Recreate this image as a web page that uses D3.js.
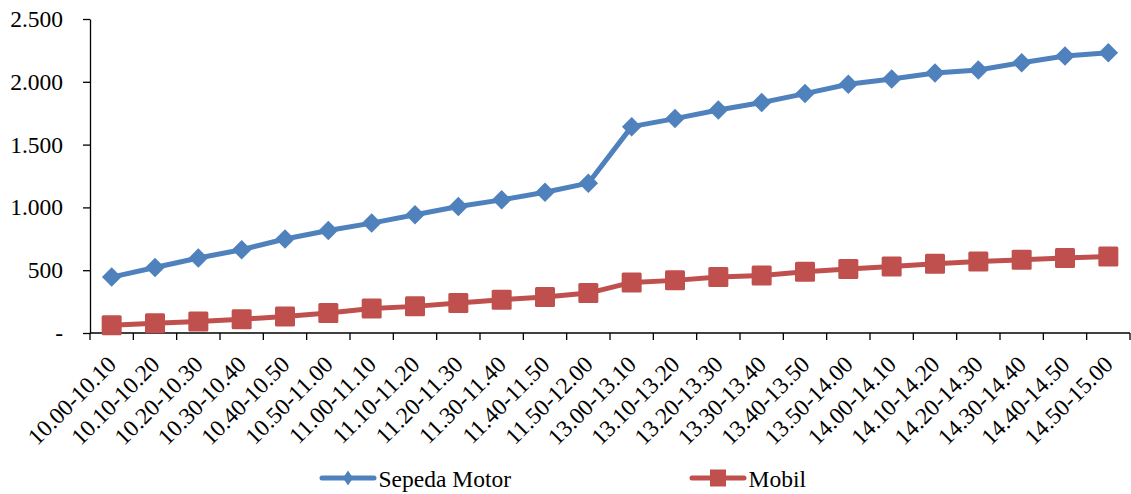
<!DOCTYPE html>
<html>
<head>
<meta charset="utf-8">
<script src="https://cdn.jsdelivr.net/npm/d3@7"></script>
<style>
  html, body { margin: 0; padding: 0; background: #fff; }
  svg { display: block; }
</style>
</head>
<body>
<svg id="chart" width="1131" height="494"></svg>
<script>
// Time slots (10-minute intervals)
const categories = [
  "10.00-10.10", "10.10-10.20", "10.20-10.30", "10.30-10.40", "10.40-10.50", "10.50-11.00",
  "11.00-11.10", "11.10-11.20", "11.20-11.30", "11.30-11.40", "11.40-11.50", "11.50-12.00",
  "13.00-13.10", "13.10-13.20", "13.20-13.30", "13.30-13.40", "13.40-13.50", "13.50-14.00",
  "14.00-14.10", "14.10-14.20", "14.20-14.30", "14.30-14.40", "14.40-14.50", "14.50-15.00"
];

// Cumulative vehicle counts
const sepedaMotor = [445, 522, 597, 663, 748, 816, 875, 941, 1007, 1060, 1121, 1193,
                     1643, 1707, 1776, 1835, 1906, 1980, 2023, 2070, 2094, 2152, 2205, 2232];
const mobil = [62, 78, 92, 110, 132, 160, 195, 212, 239, 265, 286, 318,
               403, 419, 446, 458, 488, 509, 530, 551, 570, 583, 597, 610];

const yTicks = [0, 500, 1000, 1500, 2000, 2500];
const yTickLabels = ["-", "500", "1.000", "1.500", "2.000", "2.500"];

const seriesNames = ["Sepeda Motor", "Mobil"];
const seriesColors = ["#4F81BD", "#C0504D"];

const FONT = "'Liberation Serif', 'Times New Roman', Times, serif";
const FONT_SIZE = "23.5px";

const svg = d3.select("#chart");
const plotLeft = 90, plotRight = 1130, plotTop = 19, plotBottom = 333;

const x = d3.scaleBand().domain(categories).range([plotLeft, plotRight]).paddingInner(0).paddingOuter(0);
const y = d3.scaleLinear().domain([0, 2500]).range([plotBottom, plotTop]);

// Y axis
const yAxis = d3.axisLeft(y)
  .tickValues(yTicks)
  .tickFormat((d, i) => yTickLabels[i])
  .tickSizeInner(7).tickSizeOuter(0).tickPadding(27);
const gy = svg.append("g").attr("transform", `translate(${plotLeft},0)`).call(yAxis);
gy.attr("font-family", null).attr("font-size", null);
gy.select(".domain").attr("stroke", "#000").attr("stroke-width", 1.3);
gy.selectAll(".tick line").attr("stroke", "#000").attr("stroke-width", 1.3);
gy.selectAll(".tick text")
  .style("font-family", FONT).style("font-size", FONT_SIZE).attr("fill", "#000")
  .attr("text-anchor", "end").attr("x", -27).attr("dy", "0.32em");

// X axis: ticks at category boundaries
const gx = svg.append("g").attr("transform", `translate(0,${plotBottom})`);
gx.append("line").attr("x1", plotLeft).attr("x2", plotRight).attr("y1", 0).attr("y2", 0)
  .attr("stroke", "#000").attr("stroke-width", 1.3);
const boundaries = categories.map(c => x(c)).concat([x(categories[categories.length - 1]) + x.bandwidth()]);
gx.selectAll("line.tk").data(boundaries).enter().append("line").attr("class", "tk")
  .attr("x1", d => d).attr("x2", d => d).attr("y1", 0).attr("y2", 7)
  .attr("stroke", "#000").attr("stroke-width", 1.3);
gx.selectAll("text.lbl").data(categories).enter().append("text").attr("class", "lbl")
  .style("font-family", FONT).style("font-size", FONT_SIZE).attr("fill", "#000")
  .attr("text-anchor", "end")
  .attr("transform", d => `translate(${x(d) + x.bandwidth() / 2 + 6},${33}) rotate(-45)`)
  .text(d => d);

// Series
const cx = d => x(d) + x.bandwidth() / 2;
const data = [sepedaMotor, mobil];
const line = d3.line().x((v, i) => cx(categories[i])).y(v => y(v));

data.forEach((vals, s) => {
  svg.append("path").datum(vals).attr("d", line)
    .attr("fill", "none").attr("stroke", seriesColors[s]).attr("stroke-width", 5)
    .attr("stroke-linejoin", "round");
});

// Markers: diamonds for Sepeda Motor, squares for Mobil
svg.selectAll("path.dia").data(sepedaMotor).enter().append("path").attr("class", "dia")
  .attr("d", d3.symbol().type(d3.symbolSquare).size(190))
  .attr("transform", (v, i) => `translate(${cx(categories[i])},${y(v)}) rotate(45)`)
  .attr("fill", seriesColors[0]);
svg.selectAll("rect.sq").data(mobil).enter().append("rect").attr("class", "sq")
  .attr("x", (v, i) => cx(categories[i]) - 10).attr("y", v => y(v) - 10)
  .attr("width", 20).attr("height", 20).attr("rx", 1.5)
  .attr("fill", seriesColors[1]);

// Legend
const legendY = 478;
const legendX = [320, 690];
seriesNames.forEach((name, s) => {
  const g = svg.append("g").attr("transform", `translate(${legendX[s]},${legendY})`);
  g.append("line").attr("x1", 2).attr("x2", 54).attr("y1", 0).attr("y2", 0)
    .attr("stroke", seriesColors[s]).attr("stroke-width", 5).attr("stroke-linecap", "round");
  if (s === 0) {
    g.append("path").attr("d", "M0,-7.5L5,0L0,7.5L-5,0Z")
      .attr("transform", "translate(28,0)").attr("fill", seriesColors[s]);
  } else {
    g.append("rect").attr("x", 28 - 8).attr("y", -8.5).attr("width", 16).attr("height", 17)
      .attr("fill", seriesColors[s]);
  }
  g.append("text").attr("x", 58.5).attr("y", 0).attr("dy", "0.37em")
    .style("font-family", FONT).style("font-size", FONT_SIZE).attr("fill", "#000")
    .text(name);
});
</script>
</body>
</html>
